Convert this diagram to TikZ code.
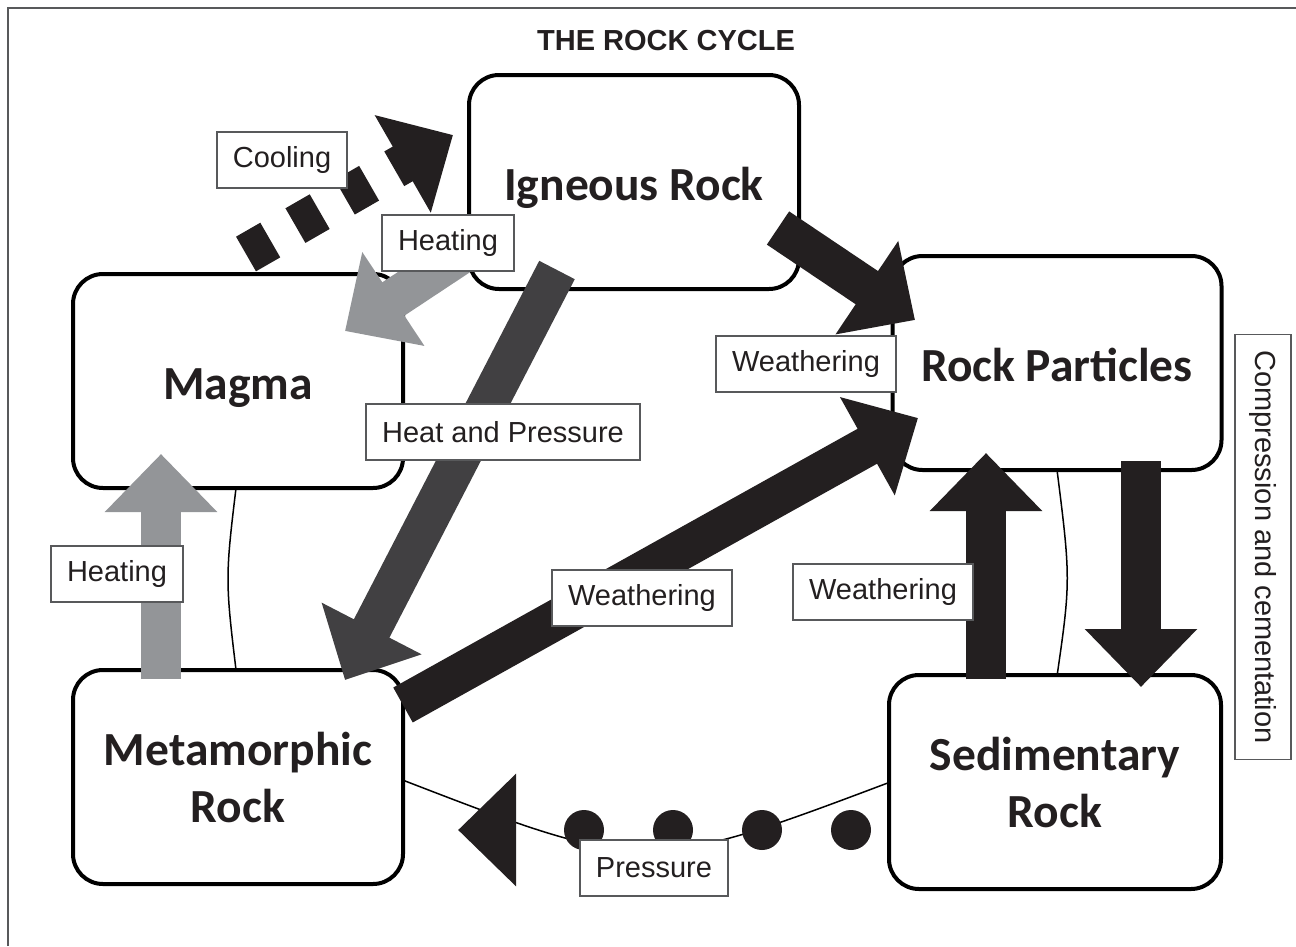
\documentclass[tikz,border=0pt]{standalone}
\usepackage{fontspec}
\setmainfont{Liberation Sans}
\newfontfamily\boxfamily{Carlito}
\usetikzlibrary{arrows.meta}
\definecolor{ink}{HTML}{231F20}
\definecolor{slate}{HTML}{414042}
\definecolor{ash}{HTML}{939598}
\definecolor{rim}{HTML}{58595B}

\tikzset{
  rockbox/.style={draw=black, line width=4pt, fill=white, rounded corners=30pt,
    minimum width=330pt, minimum height=214pt, align=center, text=ink,
    font=\boxfamily\bfseries\fontsize{47.5}{57}\selectfont},
  oneline/.style={text height=36pt, text depth=0pt},
  tag/.style={draw=rim, line width=1.5pt, fill=white, inner xsep=16pt, inner ysep=0pt,
    minimum height=56pt, text=ink, font=\fontsize{29}{34}\selectfont},
  bigarrow/.style={line width=40pt, -{Triangle[width=109pt,length=58pt]}},
}

\begin{document}
\begin{tikzpicture}[x=1pt, y=-1pt]
    \useasboundingbox (0,0) rectangle (1296,946);
    \draw[rim, line width=2pt] (7.5,946) -- (7.5,7.5) -- (1296,7.5);
    \node[text=ink, font=\fontsize{29}{34}\selectfont\bfseries] (title) at (666,41) {THE ROCK CYCLE};

    % ring behind the boxes
    \draw[line width=1.5pt] (237,480) .. controls (225,579) .. (237,678);
    \draw[line width=1.5pt] (1056,462) .. controls (1071,580) .. (1056,683);
    \draw[line width=1.5pt] (400,779) .. controls (646,874) .. (893,781);

    % the five rocks
    \node[rockbox, oneline] (ign) at (634,182) {Igneous Rock};
    \node[rockbox, oneline] (mag) at (238,381) {Magma};
    \node[rockbox, oneline, minimum width=329pt] (part) at (1057,363) {Rock Particles};
    \node[rockbox] (meta) at (238,777) {Metamorphic\\Rock};
    \node[rockbox, minimum width=332pt] (sed) at (1055,782) {Sedimentary\\Rock};

    % arrow ends
    \coordinate (cool0) at (246,254);  \coordinate (cool1) at (453,135);
    \coordinate (heat0) at (490,235);  \coordinate (heat1) at (345,331);
    \coordinate (hp0) at (557,270);    \coordinate (hp1) at (345,680);
    \coordinate (wa0) at (778,228);    \coordinate (wa1) at (915,320);
    \coordinate (wb0) at (403,705);    \coordinate (wb1) at (918,418);
    \coordinate (wc0) at (986,679);    \coordinate (wc1) at (986,453);
    \coordinate (cc0) at (1141,461);   \coordinate (cc1) at (1141,687);
    \coordinate (hl0) at (161,679);    \coordinate (hl1) at (161,454);
    \coordinate (pr0) at (851,830);    \coordinate (pr1) at (458,830);

    \draw[bigarrow, ink, dash pattern=on 28pt off 29pt] (cool0) -- (cool1);
    \draw[bigarrow, ash] (heat0) -- (heat1);
    \draw[bigarrow, slate] (hp0) -- (hp1);
    \draw[bigarrow, ink] (wa0) -- (wa1);
    \draw[bigarrow, ink] (wb0) -- (wb1);
    \draw[bigarrow, ink] (wc0) -- (wc1);
    \draw[bigarrow, ink] (cc0) -- (cc1);
    \draw[bigarrow, ash] (hl0) -- (hl1);
    \draw[bigarrow, ink, line cap=round, dash pattern=on 0pt off 89pt] (pr0) -- (pr1);

    % labels
    \node[tag] (cool) at (282,160) {Cooling};
    \node[tag] (heattop) at (448,243) {Heating};
    \node[tag] (hp) at (503,432) {Heat and Pressure};
    \node[tag] (wthtop) at (806,364) {Weathering};
    \node[tag] (wthmid) at (642,598) {Weathering};
    \node[tag] (wthright) at (883,592) {Weathering};
    \node[tag] (heatleft) at (117,574) {Heating};
    \node[tag] (press) at (654,868) {Pressure};
    \node[tag, rotate=-90] (comp) at (1263,547) {Compression and cementation};
\end{tikzpicture}
\end{document}
